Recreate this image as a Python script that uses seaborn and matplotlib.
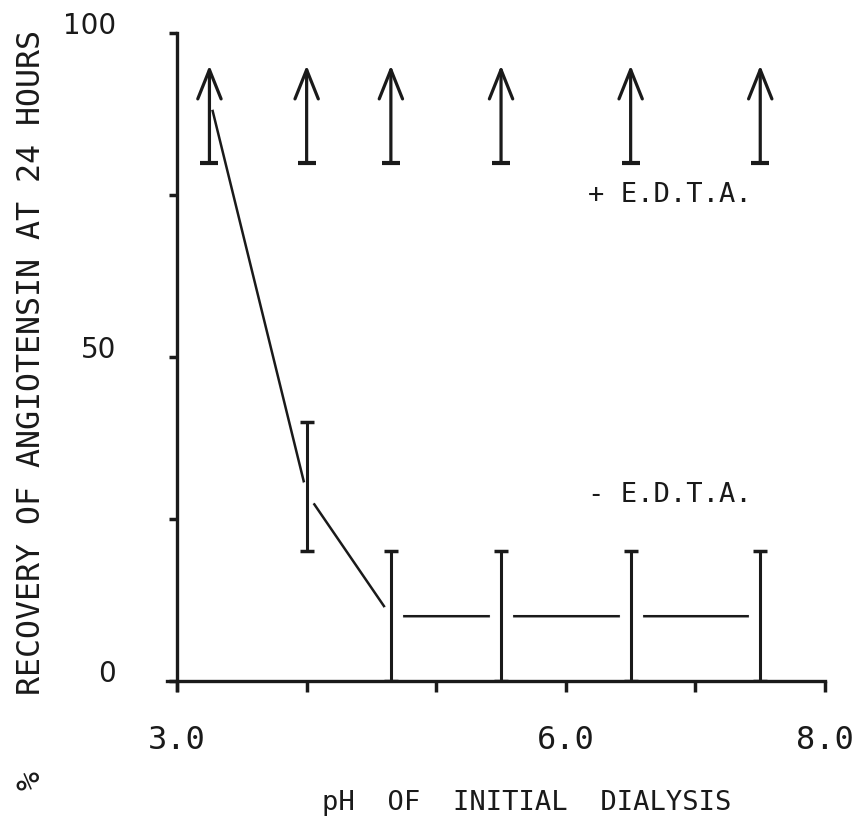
import numpy as np
import pandas as pd
import matplotlib
matplotlib.use("Agg")
import matplotlib.pyplot as plt
from matplotlib.transforms import ScaledTranslation
import seaborn as sns

# ---- data ----
ph = [3.25, 4.0, 4.65, 5.5, 6.5, 7.5]
minus_mean = [90, 29, 10, 10, 10, 10]
minus_low = [np.nan, 20, 0, 0, 0, 0]
minus_high = [np.nan, 40, 20, 20, 20, 20]
plus_low = [80, 80, 80, 80, 80, 80]
plus_arrow_top = [95, 95, 95, 95, 95, 95]

x_ticks = [3, 4, 5, 6, 7, 8]
x_tick_labels = ["3.0", "", "", "6.0", "", "8.0"]
y_ticks = [0, 25, 50, 75, 100]
y_tick_labels = ["0", "", "50", "", "100"]

x_label = "pH  OF  INITIAL  DIALYSIS"
y_label = "%    RECOVERY OF ANGIOTENSIN AT 24 HOURS"
plus_text = "+ E.D.T.A."
minus_text = "- E.D.T.A."

sns.set_style("ticks")
plt.rcParams['font.family'] = ['DejaVu Sans Mono', 'DejaVu Sans']

fig = plt.figure(figsize=(8.54, 8.30), dpi=100)
ax = fig.add_axes([0.2073, 0.1795, 0.7588, 0.7807])

df = pd.DataFrame({"ph": ph, "mean": minus_mean, "low": minus_low,
                   "high": minus_high, "plow": plus_low, "ptop": plus_arrow_top})

ink = "#1a1a1a"

# -EDTA connecting line, with white markers to leave gaps around the points
sns.lineplot(data=df, x="ph", y="mean", ax=ax, color=ink, lw=1.8,
             marker="o", markersize=16, markerfacecolor="white",
             markeredgecolor="white", zorder=2)

# -EDTA error bars
m = df["low"].notna()
sub = df[m]
ax.errorbar(sub["ph"], sub["mean"],
            yerr=[sub["mean"] - sub["low"], sub["high"] - sub["mean"]],
            fmt="none", ecolor=ink, elinewidth=2.2, capsize=5, capthick=2.5,
            zorder=4)

# +EDTA: lower bound caps with upward arrows
sns.scatterplot(data=df, x="ph", y="plow", ax=ax, marker="_", s=150,
                color=ink, linewidth=3, zorder=5)
for x, lo, hi in zip(df["ph"], df["plow"], df["ptop"]):
    ax.annotate("", xy=(x, hi), xytext=(x, lo),
                arrowprops=dict(arrowstyle="->,head_length=1.05,head_width=0.42",
                                lw=2.3, color=ink, mutation_scale=20,
                                shrinkA=0, shrinkB=0),
                zorder=5)

ax.text(6.17, 75, plus_text, fontsize=19.5, va="center", ha="left", color=ink)
ax.text(6.17, 28.7, minus_text, fontsize=19.5, va="center", ha="left", color=ink)

ax.set_xlim(3, 8)
ax.set_ylim(0, 100)
ax.set_xticks(x_ticks)
ax.set_xticklabels(x_tick_labels, fontsize=23)
ax.set_yticks(y_ticks)
ax.set_yticklabels(y_tick_labels, fontsize=20, family="DejaVu Sans")
ax.tick_params(axis="x", direction="out", length=8, width=2.5, pad=24, colors=ink)
ax.tick_params(axis="y", direction="out", length=6, width=2.5, pad=38, colors=ink)
shift = ScaledTranslation(0, 7 / 72, fig.dpi_scale_trans)
for lab in ax.get_yticklabels():
    lab.set_transform(lab.get_transform() + shift)
ax.set_xlabel("")
ax.set_ylabel("")

for s in ["top", "right"]:
    ax.spines[s].set_visible(False)
for s in ["left", "bottom"]:
    ax.spines[s].set_linewidth(2.4)
    ax.spines[s].set_color(ink)
ax.spines["left"].set_bounds(-1.4, 100)
ax.spines["bottom"].set_bounds(2.92, 8)

ax.text(0.54, -0.188, x_label, transform=ax.transAxes, fontsize=19.5,
        ha="center", va="center", color=ink)
ax.text(-0.224, 0.419, y_label, transform=ax.transAxes, fontsize=22.8,
        rotation=90, ha="center", va="center", color=ink)

fig.savefig("out.png", dpi=100, facecolor="white")
